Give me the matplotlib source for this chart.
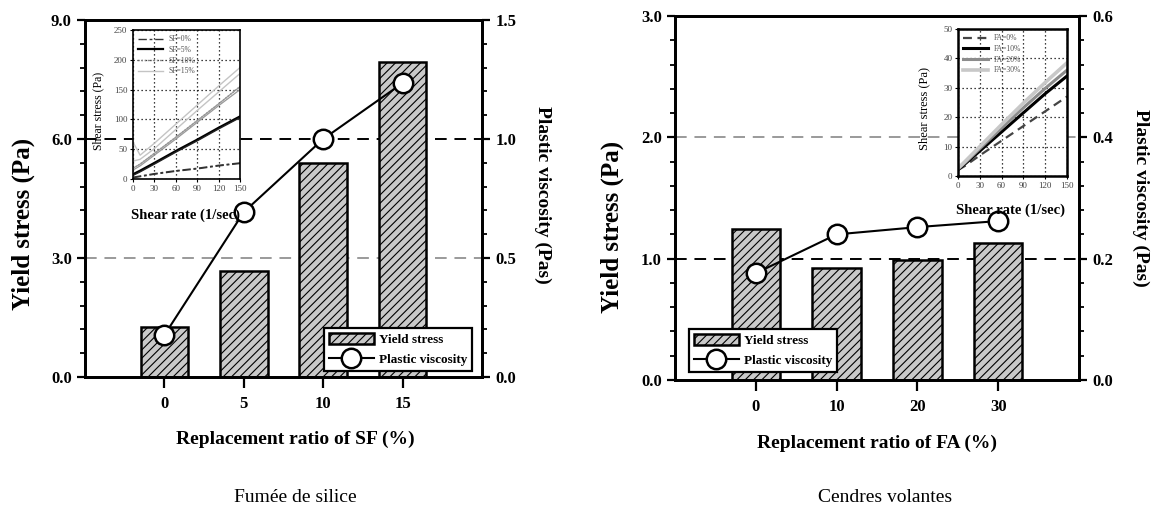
import matplotlib
matplotlib.use("Agg")
import matplotlib.pyplot as plt
from matplotlib.ticker import MultipleLocator, FormatStrFormatter

plt.rcParams['font.family'] = ['Liberation Serif', 'DejaVu Serif']
plt.rcParams['hatch.color'] = '#3a3a3a'
plt.rcParams['hatch.linewidth'] = 0.8

# ---- main data -------------------------------------------------------
sf_ratio = ['0', '5', '10', '15']
sf_yield = [1.26, 2.67, 5.40, 7.95]
sf_visc = [0.176, 0.693, 1.00, 1.235]

fa_ratio = ['0', '10', '20', '30']
fa_yield = [1.245, 0.92, 0.99, 1.13]
fa_visc = [0.176, 0.240, 0.252, 0.262]

# ---- flow curves (inset) ---------------------------------------------
shear_rate = [0, 10, 30, 60, 90, 120, 150]
sf0_up = [3, 5, 9, 14, 18, 23, 27]
sf0_down = [2, 4, 8, 13, 17, 22, 26]
sf5_up = [8, 14, 27, 47, 66, 86, 105]
sf5_down = [6, 12, 25, 45, 64, 84, 103]
sf10_up = [18, 25, 43, 70, 98, 126, 155]
sf10_down = [15, 22, 40, 67, 95, 123, 150]
sf15_up = [62, 40, 60, 92, 124, 156, 187]
sf15_down = [30, 33, 51, 83, 115, 146, 177]

fa0 = [2.0, 3.5, 7.0, 12.0, 17.0, 22.0, 27.0]
fa10 = [2.2, 4.2, 8.5, 15.0, 21.5, 28.0, 34.0]
fa20 = [2.4, 4.6, 9.3, 16.3, 23.2, 29.8, 36.0]
fa30 = [2.6, 5.0, 10.0, 17.5, 24.8, 31.8, 38.5]

W, H = 1157, 528
fig = plt.figure(figsize=(W / 100, H / 100), dpi=100)


def px_axes(x0, y0, x1, y1):
    """Axes from pixel box (left, top, right, bottom)."""
    return fig.add_axes([x0 / W, 1 - y1 / H, (x1 - x0) / W, (y1 - y0) / H])


BAR_FACE = '#c9c9c9'
LBL = dict(fontsize=14, fontweight='bold')
TICK_FS = 12


def style_main(ax, twin, ylim, ymaj, ymin, vlim, vmaj, vmin):
    ax.set_xlim(-1, 4)
    ax.set_ylim(*ylim)
    twin.set_ylim(*vlim)
    ax.yaxis.set_major_locator(MultipleLocator(ymaj))
    ax.yaxis.set_minor_locator(MultipleLocator(ymin))
    twin.yaxis.set_major_locator(MultipleLocator(vmaj))
    twin.yaxis.set_minor_locator(MultipleLocator(vmin))
    ax.yaxis.set_major_formatter(FormatStrFormatter('%.1f'))
    twin.yaxis.set_major_formatter(FormatStrFormatter('%.1f'))
    for a in (ax, twin):
        for s in a.spines.values():
            s.set_linewidth(2.0)
        a.tick_params(axis='both', which='major', direction='out', length=6,
                      width=1.6, labelsize=TICK_FS)
        a.tick_params(axis='y', which='minor', direction='out', length=3.5,
                      width=1.3)
        for t in a.get_yticklabels() + a.get_xticklabels():
            t.set_fontweight('bold')
    ax.tick_params(axis='x', length=8, pad=6)


def draw_panel(box, cats, yld, visc, ylim, ymaj, ymin, vlim, vmaj, vmin,
               black_y, gray_y, xlabel, legend_anchor, legend_loc,
               ylab_y, vlab_y, xlab_x):
    ax = px_axes(*box)
    twin = ax.twinx()
    pos = list(range(len(cats)))
    ax.axhline(black_y, color='black', lw=1.4, ls=(0, (6, 4)), zorder=0.5)
    ax.axhline(gray_y, color='#9a9a9a', lw=1.4, ls=(0, (6, 4)), zorder=0.5)
    bars = ax.bar(pos, yld, width=0.6, color=BAR_FACE, edgecolor='black',
                  linewidth=1.8, hatch='////', zorder=2, label='Yield stress')
    line, = twin.plot(pos, visc, color='black', lw=1.5, marker='o',
                      markersize=14, markerfacecolor='white',
                      markeredgecolor='black', markeredgewidth=1.8,
                      label='Plastic viscosity', zorder=3)
    ax.set_xticks(pos)
    ax.set_xticklabels(cats)
    style_main(ax, twin, ylim, ymaj, ymin, vlim, vmaj, vmin)

    ax.set_ylabel('Yield stress (Pa)', fontsize=18, fontweight='bold')
    ax.yaxis.set_label_coords(-0.125, ylab_y)
    twin.set_ylabel('Plastic viscosity (Pas)', fontsize=14,
                    fontweight='bold', rotation=-90, va='bottom')
    twin.yaxis.set_label_coords(1.13, vlab_y)
    ax.set_xlabel(xlabel, **LBL)
    ax.xaxis.set_label_coords(xlab_x, -0.15)

    leg = twin.legend([bars.patches[0], line], ['Yield stress', 'Plastic viscosity'],
                      loc=legend_loc, bbox_to_anchor=legend_anchor,
                      borderaxespad=0, fancybox=False, framealpha=1,
                      edgecolor='black', handlelength=3.4, handleheight=0.9,
                      borderpad=0.35, labelspacing=0.55, handletextpad=0.4,
                      prop=dict(family='Liberation Serif', weight='bold',
                                size=9.5))
    leg.get_frame().set_linewidth(1.6)
    return ax, twin


def style_inset(ax, xlim, ylim, xstep, ystep, frame_lw):
    ax.set_xlim(*xlim)
    ax.set_ylim(*ylim)
    ax.xaxis.set_major_locator(MultipleLocator(xstep))
    ax.yaxis.set_major_locator(MultipleLocator(ystep))
    ax.grid(True, color='black', ls=(0, (1, 2.2)), lw=0.9)
    ax.tick_params(direction='out', length=2, width=0.8, labelsize=6.5,
                   pad=2, labelcolor='#444444')
    for s in ax.spines.values():
        s.set_linewidth(frame_lw)
    ax.set_facecolor('white')


# ---- left panel: silica fume ------------------------------------------
axL, twL = draw_panel((85, 20, 482, 377), sf_ratio, sf_yield, sf_visc,
                      (0, 9), 3, 0.6, (0, 1.5), 0.5, 0.1, 6.0, 3.0,
                      'Replacement ratio of SF (%)', (0.975, 0.017),
                      'lower right', 0.43, 0.51, 0.53)

insL = px_axes(133, 30, 240, 179)
insL.plot(shear_rate, sf0_up, color='#333333', lw=1.0, ls=(0, (6, 2, 2, 2)),
          label='SF=0%')
insL.plot(shear_rate, sf0_down, color='#333333', lw=1.0, ls=(0, (6, 2, 2, 2)))
insL.plot(shear_rate, sf5_up, color='black', lw=1.6, label='SF=5%')
insL.plot(shear_rate, sf5_down, color='#222222', lw=1.0)
insL.plot(shear_rate, sf10_up, color='#888888', lw=1.0, ls=(0, (1, 1.2)),
          label='SF=10%')
insL.plot(shear_rate, sf10_up, color='#999999', lw=0.9)
insL.plot(shear_rate, sf10_down, color='#999999', lw=0.9)
insL.plot(shear_rate, sf15_up, color='#c4c4c4', lw=1.0, label='SF=15%')
insL.plot(shear_rate, sf15_down, color='#c4c4c4', lw=1.0)
style_inset(insL, (0, 150), (0, 250), 30, 50, 1.2)
insL.set_ylabel('Shear stress (Pa)', fontsize=8.5)
insL.yaxis.set_label_coords(-0.265, 0.46)
insL.set_xlabel('Shear rate (1/sec)', fontsize=10.5, fontweight='bold')
insL.xaxis.set_label_coords(0.49, -0.2)
lg = insL.legend(loc='upper left', frameon=False, fontsize=5.5,
                 handlelength=3.2, labelspacing=0.35, borderaxespad=0.3,
                 handletextpad=0.8)
for t in lg.get_texts():
    t.set_color('#555555')

# ---- right panel: fly ash ---------------------------------------------
axR, twR = draw_panel((675, 16, 1079, 380), fa_ratio, fa_yield, fa_visc,
                      (0, 3), 1, 0.2, (0, 0.6), 0.2, 0.04, 1.0, 2.0,
                      'Replacement ratio of FA (%)', (0.035, 0.022),
                      'lower left', 0.42, 0.50, 0.50)

insR = px_axes(958, 29, 1067, 176)
insR.plot(shear_rate, fa0, color='#444444', lw=1.6, ls=(0, (4, 2.5)),
          label='FA=0%')
insR.plot(shear_rate, fa10, color='black', lw=2.2, label='FA=10%')
insR.plot(shear_rate, fa20, color='#8c8c8c', lw=2.2, label='FA=20%')
insR.plot(shear_rate, fa30, color='#c8c8c8', lw=2.6, label='FA=30%')
style_inset(insR, (0, 150), (0, 50), 30, 10, 1.8)
insR.set_ylabel('Shear stress (Pa)', fontsize=9)
insR.yaxis.set_label_coords(-0.255, 0.46)
insR.set_xlabel('Shear rate (1/sec)', fontsize=10.5, fontweight='bold')
insR.xaxis.set_label_coords(0.48, -0.19)
lg = insR.legend(loc='upper left', frameon=False, fontsize=5.5,
                 handlelength=3.2, labelspacing=0.35, borderaxespad=0.3,
                 handletextpad=0.8)
for t in lg.get_texts():
    t.set_color('#555555')

# ---- captions ---------------------------------------------------------
fig.text(295 / W, 1 - 497 / H, 'Fumée de silice', ha='center', va='center',
         fontsize=14)
fig.text(885 / W, 1 - 497 / H, 'Cendres volantes', ha='center', va='center',
         fontsize=14)

fig.savefig('out.png', dpi=100)
